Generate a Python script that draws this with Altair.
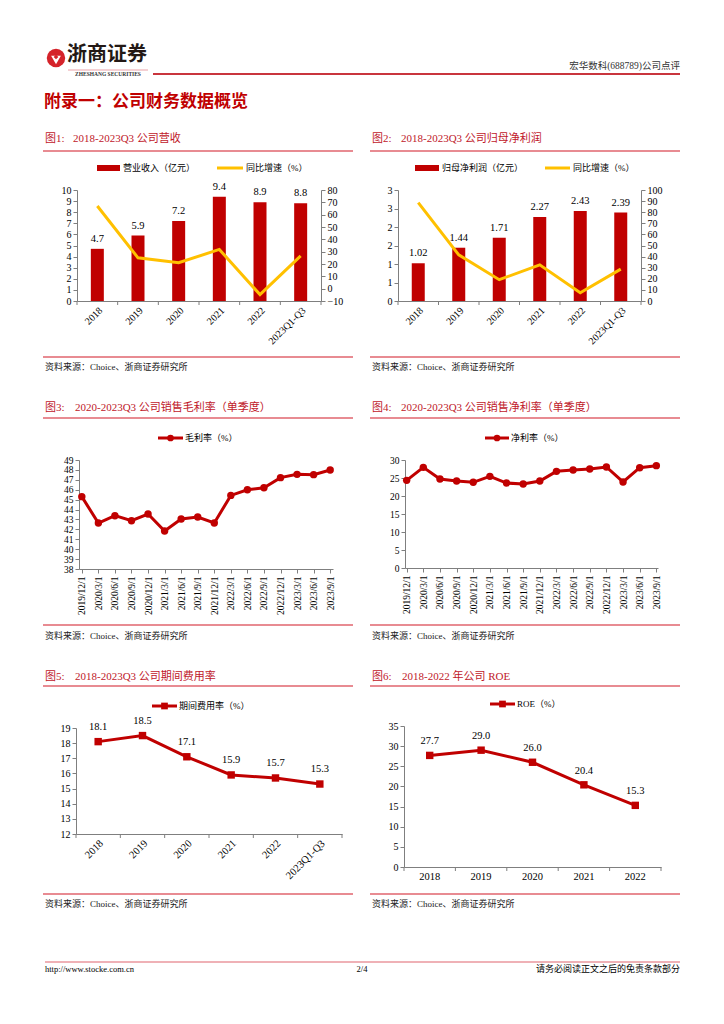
import altair as alt
import pandas as pd

FONT = "Liberation Serif, Noto Sans CJK SC"
CJK = "Noto Sans CJK SC"
RED = "#C00000"
GOLD = "#FFC000"
TITLE_RED = "#C0182A"
RULE_RED = "#E0646E"
AXIS = "#7F7F7F"

# ---------------- data ----------------
years = ["2018", "2019", "2020", "2021", "2022", "2023Q1-Q3"]
revenue = [4.7, 5.9, 7.2, 9.4, 8.9, 8.8]
revenue_growth = [67.0, 25.0, 21.0, 31.8, -4.8, 26.6]
profit = [1.02, 1.44, 1.71, 2.27, 2.43, 2.39]
profit_growth = [88.6, 41.6, 19.2, 32.6, 7.5, 28.7]

quarters = ["2019/12/1", "2020/3/1", "2020/6/1", "2020/9/1", "2020/12/1",
            "2021/3/1", "2021/6/1", "2021/9/1", "2021/12/1", "2022/3/1",
            "2022/6/1", "2022/9/1", "2022/12/1", "2023/3/1", "2023/6/1",
            "2023/9/1"]
gross_margin = [45.3, 42.64, 43.38, 42.87, 43.55, 41.83, 43.04, 43.24, 42.64,
                45.43, 46.0, 46.2, 47.22, 47.55, 47.52, 47.99]
net_margin = [24.35, 27.96, 24.72, 24.17, 23.8, 25.46, 23.6, 23.33, 24.17,
              26.85, 27.2, 27.5, 28.06, 23.9, 27.87, 28.43]

expense_ratio = [18.1, 18.5, 17.1, 15.9, 15.7, 15.3]
roe_years = ["2018", "2019", "2020", "2021", "2022"]
roe = [27.7, 29.0, 26.0, 20.4, 15.3]

ONE = [{"k": 1}]


# ---------------- helpers ----------------
def txt(s, x, y, size=9, color="#000000", align="left", weight="normal", font=FONT):
    return alt.Chart(alt.Data(values=ONE)).mark_text(
        text=s, align=align, baseline="middle", fontSize=size, color=color,
        fontWeight=weight, font=font
    ).encode(x=alt.value(x), y=alt.value(y))


def rule(x1, y1, x2, y2, color, width):
    return alt.Chart(alt.Data(values=ONE)).mark_rule(
        color=color, strokeWidth=width
    ).encode(x=alt.value(x1), y=alt.value(y1), x2=alt.value(x2), y2=alt.value(y2))


def sym(shape, x, y, size, color):
    return alt.Chart(alt.Data(values=ONE)).mark_point(
        shape=shape, filled=True, size=size, color=color, opacity=1, strokeWidth=0
    ).encode(x=alt.value(x), y=alt.value(y))


class Geo:
    """cell and plot rectangles in page coordinates -> cell-relative numbers"""
    def __init__(self, cell, plot):
        self.cl, self.ct, self.cw, self.ch = cell
        pl, pt, pw, ph = plot
        self.X0 = pl - self.cl
        self.Y0 = pt - self.ct
        self.X1 = self.X0 + pw
        self.Y1 = self.Y0 + ph

    def L(self, X):
        return X - self.cl

    def T(self, Y):
        return Y - self.ct

    @property
    def off_left(self):
        return -self.X0

    @property
    def off_right(self):
        return -(self.cw - self.X1)

    @property
    def off_bottom(self):
        return -(self.ch - self.Y1)


def decor(g, panel_lr, fig_no, fig_title, title_x2, ys):
    pl, pr = panel_lr
    title_y, top_rule, bottom_rule, source_y = ys
    L, T = g.L, g.T
    return [
        txt(fig_no, L(pl + 2), T(title_y), 11, TITLE_RED),
        txt(fig_title, L(title_x2), T(title_y), 11, TITLE_RED),
        rule(L(pl), T(top_rule), L(pr), T(top_rule), RULE_RED, 1.5),
        rule(L(pl), T(bottom_rule), L(pr), T(bottom_rule), RULE_RED, 1.5),
        txt("资料来源：Choice、浙商证券研究所", L(pl + 2), T(source_y), 9, "#222222"),
    ]


def bar_line(g, cats, bars, growth, lab_fmt, ydom, yvals, gdom, gvals, yfmt=""):
    df = pd.DataFrame({"cat": cats, "v": bars, "g": growth})
    base = alt.Chart(df)
    xscale = alt.Scale(range=[g.X0, g.X1], paddingInner=0, paddingOuter=0)
    xaxis = alt.Axis(title=None, labelAngle=315, ticks=False, labelPadding=4,
                     labelFontSize=10, labelOverlap=False, offset=g.off_bottom)
    x = alt.X("cat:N", sort=cats, scale=xscale, axis=xaxis)
    xb = alt.X("cat:N", sort=cats, scale=xscale, axis=xaxis, bandPosition=0)
    ax_kw = dict(title=None, values=yvals, orient="left", offset=g.off_left,
                 labelOverlap=False)
    if yfmt:
        ax_kw["format"] = yfmt
    y = alt.Y("v:Q", scale=alt.Scale(domain=ydom, nice=False, range=[g.Y1, g.Y0]),
              axis=alt.Axis(**ax_kw))
    bar = base.mark_bar(color=RED, size=13).encode(x=x, y=y)
    lab = base.mark_text(dy=-10, fontSize=10.5, font=FONT, color="#000000").encode(
        x=x, y=y, text=alt.Text("v:Q", format=lab_fmt))
    tk = base.mark_rule(color=AXIS).encode(x=xb, y=alt.value(g.Y1), y2=alt.value(g.Y1 + 4))
    endtk = rule(g.X1, g.Y1, g.X1, g.Y1 + 4, AXIS, 1)
    gy = alt.Y("g:Q", scale=alt.Scale(domain=gdom, nice=False, range=[g.Y1, g.Y0]),
               axis=alt.Axis(title=None, values=gvals, orient="right", offset=g.off_right,
                             labelOverlap=False))
    line = base.mark_line(color=GOLD, strokeWidth=3).encode(x=x, y=gy)
    return [alt.layer(bar, lab, tk, endtk), line]


def q_line(g, vals, ydom, yvals, pad):
    df = pd.DataFrame({"q": quarters, "v": vals})
    base = alt.Chart(df)
    x = alt.X("q:N", sort=quarters,
              scale=alt.Scale(type="point", padding=pad, range=[g.X0, g.X1]),
              axis=alt.Axis(title=None, labelAngle=270, tickSize=4, labelFontSize=9.5,
                            labelPadding=3, labelOverlap=False, offset=g.off_bottom))
    y = alt.Y("v:Q", scale=alt.Scale(domain=ydom, nice=False, zero=False, range=[g.Y1, g.Y0]),
              axis=alt.Axis(title=None, values=yvals, offset=g.off_left,
                            labelOverlap=False, labelFontSize=9.5))
    return [
        base.mark_line(color=RED, strokeWidth=3).encode(x=x, y=y),
        base.mark_point(filled=True, shape="circle", size=55, color=RED, opacity=1).encode(x=x, y=y),
    ]


def y_line(g, cats, vals, ydom, yvals, angle, dy):
    df = pd.DataFrame({"c": cats, "v": vals})
    base = alt.Chart(df)
    xscale = alt.Scale(type="band", paddingInner=0, paddingOuter=0, range=[g.X0, g.X1])
    xaxis = alt.Axis(title=None, labelAngle=angle, ticks=False, labelPadding=4,
                     labelFontSize=10.5, labelOverlap=False, offset=g.off_bottom)
    x = alt.X("c:N", sort=cats, scale=xscale, axis=xaxis, bandPosition=0.5)
    xb = alt.X("c:N", sort=cats, scale=xscale, axis=xaxis, bandPosition=0)
    y = alt.Y("v:Q", scale=alt.Scale(domain=ydom, nice=False, zero=False, range=[g.Y1, g.Y0]),
              axis=alt.Axis(title=None, values=yvals, offset=g.off_left, labelOverlap=False))
    return [
        base.mark_line(color=RED, strokeWidth=3).encode(x=x, y=y),
        base.mark_point(filled=True, shape="square", size=55, color=RED, opacity=1).encode(x=x, y=y),
        base.mark_text(dy=dy, fontSize=10.5, font=FONT, color="#000000").encode(
            x=x, y=y, text=alt.Text("v:Q", format=".1f")),
        base.mark_rule(color=AXIS).encode(x=xb, y=alt.value(g.Y1), y2=alt.value(g.Y1 + 4)),
        rule(g.X1, g.Y1, g.X1, g.Y1 + 4, AXIS, 1),
    ]


def legend_bar(g, x1, x2, y, label, color, width):
    return [rule(g.L(x1), g.T(y), g.L(x2), g.T(y), color, width),
            txt(label, g.L(x2 + 3), g.T(y), 9, "#000000")]


def legend_marker(g, x1, x2, y, label, shape):
    return [rule(g.L(x1), g.T(y), g.L(x2), g.T(y), RED, 3),
            sym(shape, g.L((x1 + x2) / 2), g.T(y), 45, RED),
            txt(label, g.L(x2 + 2), g.T(y), 9, "#000000")]


ROW1 = (139, 151, 357, 367)
ROW2 = (408, 418, 625, 636)
ROW3 = (677, 686, 894, 904)
LEFT = (43, 353)
RIGHT = (370, 680)
CW = 354

# ---------------- chart 1 ----------------
g = Geo((8, 126, CW, 262), (77, 190, 244, 111))
p1 = alt.layer(
    *decor(g, LEFT, "图1:", "2018-2023Q3 公司营收", 73, ROW1),
    *bar_line(g, years, revenue, revenue_growth, ".1f", [0, 10], list(range(0, 11)),
              [-10, 80], list(range(-10, 81, 10))),
    *legend_bar(g, 97, 120, 168, "营业收入（亿元）", RED, 6),
    *legend_bar(g, 217, 243, 168, "同比增速（%）", GOLD, 3),
).resolve_scale(y="independent").properties(width=g.cw, height=g.ch)

# ---------------- chart 2 ----------------
g = Geo((362, 126, CW, 262), (398, 190, 243, 111))
p2 = alt.layer(
    *decor(g, RIGHT, "图2:", "2018-2023Q3 公司归母净利润", 401, ROW1),
    *bar_line(g, years, profit, profit_growth, ".2f", [0, 3], [0, 0.5, 1, 1.5, 2, 2.5, 3],
              [0, 100], list(range(0, 101, 10)), yfmt=".0f"),
    *legend_bar(g, 415, 439, 168, "归母净利润（亿元）", RED, 6),
    *legend_bar(g, 545, 570, 168, "同比增速（%）", GOLD, 3),
).resolve_scale(y="independent").properties(width=g.cw, height=g.ch)

# ---------------- chart 3 ----------------
g = Geo((8, 388, CW, 264), (79, 460, 254, 109))
p3 = alt.layer(
    *decor(g, LEFT, "图3:", "2020-2023Q3 公司销售毛利率（单季度）", 75, ROW2),
    *q_line(g, gross_margin, [38, 49], list(range(38, 50)), 0.17),
    *legend_marker(g, 158, 183, 438, "毛利率（%）", "circle"),
).properties(width=g.cw, height=g.ch)

# ---------------- chart 4 ----------------
g = Geo((362, 388, CW, 264), (405, 460, 253, 108))
p4 = alt.layer(
    *decor(g, RIGHT, "图4:", "2020-2023Q3 公司销售净利率（单季度）", 401, ROW2),
    *q_line(g, net_margin, [0, 30], list(range(0, 31, 5)), 0.1),
    *legend_marker(g, 485, 509, 438, "净利率（%）", "circle"),
).properties(width=g.cw, height=g.ch)

# ---------------- chart 5 ----------------
g = Geo((8, 652, CW, 273), (76, 728, 266, 106))
p5 = alt.layer(
    *decor(g, LEFT, "图5:", "2018-2023Q3 公司期间费用率", 75, ROW3),
    *y_line(g, years, expense_ratio, [12, 19], list(range(12, 20)), 315, -15),
    *legend_marker(g, 152, 177, 706, "期间费用率（%）", "square"),
).properties(width=g.cw, height=g.ch)

# ---------------- chart 6 ----------------
g = Geo((362, 652, CW, 273), (404, 726, 257, 141))
p6 = alt.layer(
    *decor(g, RIGHT, "图6:", "2018-2022 年公司 ROE", 402, ROW3),
    *y_line(g, roe_years, roe, [0, 35], list(range(0, 36, 5)), 0, -14),
    *legend_marker(g, 490, 515, 704, "ROE（%）", "square"),
).properties(width=g.cw, height=g.ch)

# ---------------- header (page origin 8,8) ----------------
header = alt.layer(
    sym("circle", 48, 50, 340, "#D5232A"),
    sym("triangle-down", 48, 52, 95, "#FFFFFF"),
    sym("diamond", 48, 49, 22, "#D5232A"),
    txt("浙商证券", 59, 47, 20, "#231815", weight="bold", font=CJK),
    rule(60, 62, 140, 62, "#E9A1A8", 1.2),
    txt("ZHESHANG SECURITIES", 100, 66, 5.5, "#333333", align="center", weight="bold",
        font="Liberation Serif"),
    rule(145, 66, 672, 66, "#C9353D", 2),
    txt("宏华数科(688789)公司点评", 672, 58, 9.5, "#333333", align="right"),
    txt("附录一：公司财务数据概览", 36, 94, 17, "#C00000", weight="bold", font=CJK),
).properties(width=708, height=118)

# ---------------- footer (page origin 8,925) ----------------
footer = alt.layer(
    rule(37, 37, 672, 37, RULE_RED, 1.2),
    txt("http://www.stocke.com.cn", 37, 44, 8.5, "#000000"),
    txt("2/4", 354, 44, 8.5, "#000000", align="center"),
    txt("请务必阅读正文之后的免责条款部分", 672, 44, 9, "#000000", align="right"),
).properties(width=708, height=75)

chart = alt.vconcat(
    header,
    alt.hconcat(p1, p2, spacing=0),
    alt.hconcat(p3, p4, spacing=0),
    alt.hconcat(p5, p6, spacing=0),
    footer,
    spacing=0,
).properties(
    padding=0, background="white"
).configure_view(
    strokeWidth=0
).configure_axis(
    labelFont=FONT, labelFontSize=10, labelColor="#000000",
    domainColor=AXIS, tickColor=AXIS, tickSize=4, grid=False, labelPadding=2,
)

chart.save("out.html", embed_options={"renderer": "svg", "actions": False})
